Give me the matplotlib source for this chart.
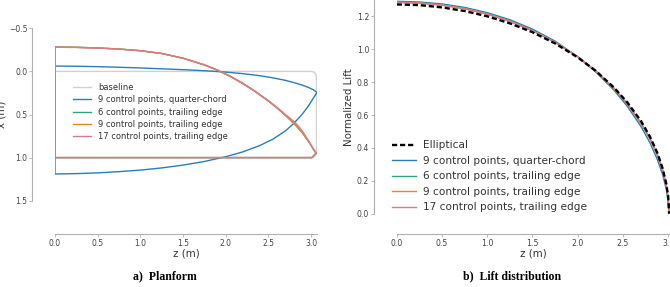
import matplotlib
matplotlib.use("Agg")
import matplotlib.pyplot as plt

plt.rcParams["font.family"] = ["DejaVu Sans"]

# -------------------------------
# Planform data (z span, x chordwise)
# -------------------------------

base_z = [0.0, 3.0, 3.04, 3.06, 3.065, 3.065, 3.06, 3.04, 3.0, 0.0, 0.0]
base_x = [0.0, 0.0, 0.01, 0.04, 0.10, 0.90, 0.96, 0.99, 1.0, 1.0, 0.0]

qc_z = [0.0, 0.25, 0.5, 0.75, 1.0, 1.25, 1.5, 1.75, 2.0, 2.2, 2.4, 2.55, 2.7, 2.8, 2.9, 2.97, 3.03, 3.07]
qc_le = [-0.062, -0.060, -0.055, -0.048, -0.040, -0.030, -0.020, -0.008, 0.008, 0.026, 0.050,
         0.074, 0.104, 0.130, 0.160, 0.186, 0.215, 0.245]
qc_te = [1.190, 1.186, 1.177, 1.163, 1.145, 1.120, 1.087, 1.045, 0.990, 0.934, 0.860,
         0.788, 0.690, 0.602, 0.492, 0.401, 0.305, 0.245]

te_z = [0.0, 0.25, 0.5, 0.75, 1.0, 1.25, 1.5, 1.75, 1.9, 2.05, 2.2, 2.35, 2.5, 2.6, 2.7, 2.8,
        2.85, 2.9, 2.97, 3.03, 3.06]
le_6 = [-0.282, -0.280, -0.272, -0.260, -0.240, -0.208, -0.153, -0.075, -0.015, 0.057, 0.141,
        0.237, 0.344, 0.423, 0.510, 0.606, 0.658, 0.715, 0.811, 0.908, 0.950]
le_9 = [-0.281, -0.279, -0.271, -0.259, -0.239, -0.207, -0.152, -0.075, -0.016, 0.055, 0.139,
        0.235, 0.342, 0.421, 0.508, 0.604, 0.656, 0.713, 0.809, 0.906, 0.950]
le_17 = [-0.280, -0.278, -0.271, -0.259, -0.240, -0.209, -0.154, -0.077, -0.018, 0.053, 0.137,
         0.233, 0.339, 0.416, 0.500, 0.582, 0.632, 0.696, 0.802, 0.903, 0.945]
te_tip_z = 3.01
te_x = 1.0

# -------------------------------
# Lift distribution data
# -------------------------------

lift_z = [0.0, 0.25, 0.5, 0.75, 1.0, 1.25, 1.5, 1.75, 2.0, 2.2, 2.4, 2.55, 2.7, 2.8, 2.88,
          2.94, 2.98, 3.0, 3.01]
lift_ell = [1.273, 1.269, 1.255, 1.233, 1.201, 1.158, 1.104, 1.036, 0.951, 0.869, 0.768,
            0.676, 0.563, 0.467, 0.370, 0.273, 0.179, 0.104, 0.0]
lift_qc = [1.292, 1.288, 1.276, 1.255, 1.223, 1.180, 1.123, 1.050, 0.955, 0.862, 0.752,
           0.652, 0.530, 0.430, 0.330, 0.235, 0.145, 0.070, 0.0]
lift_6 = [1.287, 1.283, 1.270, 1.249, 1.216, 1.172, 1.115, 1.044, 0.955, 0.868, 0.762,
          0.666, 0.550, 0.455, 0.358, 0.262, 0.168, 0.095, 0.0]
lift_9 = [1.286, 1.282, 1.269, 1.248, 1.215, 1.171, 1.114, 1.043, 0.954, 0.867, 0.761,
          0.665, 0.549, 0.454, 0.357, 0.261, 0.167, 0.094, 0.0]
lift_17 = [1.285, 1.281, 1.268, 1.247, 1.214, 1.170, 1.113, 1.043, 0.955, 0.869, 0.764,
           0.669, 0.553, 0.458, 0.361, 0.265, 0.170, 0.096, 0.0]

labels = ["9 control points, quarter-chord", "6 control points, trailing edge",
          "9 control points, trailing edge", "17 control points, trailing edge"]
colors = ["#2a7db8", "#2aa57c", "#e0892a", "#dc7890"]

TICK_C = "#444444"
SPINE_C = "#b0b0b0"


def style_axes(ax, left_off, bottom_off, tick_fs):
    for s in ["top", "right"]:
        ax.spines[s].set_visible(False)
    ax.spines["left"].set_position(("outward", left_off))
    ax.spines["bottom"].set_position(("outward", bottom_off))
    for s in ["left", "bottom"]:
        ax.spines[s].set_color(SPINE_C)
        ax.spines[s].set_linewidth(0.8)
    ax.tick_params(length=2.2, width=0.6, color=SPINE_C, labelcolor=TICK_C,
                   labelsize=tick_fs, pad=1.5)


fig = plt.figure(figsize=(6.7, 2.87), dpi=100)

# -------------------------------
# a) Planform
# -------------------------------

ax1 = fig.add_axes([55 / 670, 1 - 200.7 / 287, 262 / 670, 172.4 / 287])

ax1.plot(base_z, base_x, color="#d0d0d0", lw=1.0, label="baseline")

qc_outline_z = qc_z + qc_z[::-1] + [qc_z[0]]
qc_outline_x = qc_le + qc_te[::-1] + [qc_le[0]]
ax1.plot(qc_outline_z, qc_outline_x, color=colors[0], lw=1.0, label=labels[0])

for le, c, lab in zip([le_6, le_9, le_17], colors[1:], labels[1:]):
    oz = te_z + [te_tip_z, 0.0, 0.0]
    ox = le + [te_x, te_x, le[0]]
    ax1.plot(oz, ox, color=c, lw=1.0, label=lab)

ax1.set_xlim(0, 3.07)
ax1.set_ylim(1.5, -0.5)
ax1.set_xticks([0.0, 0.5, 1.0, 1.5, 2.0, 2.5, 3.0])
ax1.set_yticks([-0.5, 0.0, 0.5, 1.0, 1.5])
ax1.set_xticklabels(["0.0", "0.5", "1.0", "1.5", "2.0", "2.5", "3.0"])
ax1.set_yticklabels(["\u22120.5", "0.0", "0.5", "1.0", "1.5"])
style_axes(ax1, 16.3, 24.0, 5.5)
ax1.set_xlabel("z (m)", fontsize=7.4, color="#333333", labelpad=0.5)
ax1.set_ylabel("x (m)", fontsize=7.4, color="#333333")
ax1.yaxis.set_label_coords(-0.187, 0.5)

ax1.legend(loc="upper left", bbox_to_anchor=(73 / 670, 1 - 83 / 287),
           bbox_transform=fig.transFigure, frameon=False, fontsize=6.0,
           borderpad=0, borderaxespad=0, handlelength=2.2, handletextpad=0.8,
           labelspacing=0.4, labelcolor="#333333")

# -------------------------------
# b) Lift distribution
# -------------------------------

ax2 = fig.add_axes([396.7 / 670, 1 - 213.7 / 287, 273.3 / 670, 213.7 / 287])

ax2.plot(lift_z, lift_ell, color="black", lw=1.7, ls=(0, (2.2, 1.2)), label="Elliptical", zorder=5)
for y, c, lab in zip([lift_qc, lift_6, lift_9, lift_17], colors, labels):
    ax2.plot(lift_z, y, color=c, lw=1.0, label=lab)

ax2.set_xlim(0, 3.02)
ax2.set_ylim(0, 1.3)
ax2.set_xticks([0.0, 0.5, 1.0, 1.5, 2.0, 2.5, 3.0])
ax2.set_yticks([0.0, 0.2, 0.4, 0.6, 0.8, 1.0, 1.2])
ax2.set_xticklabels(["0.0", "0.5", "1.0", "1.5", "2.0", "2.5", "3.0"])
ax2.set_yticklabels(["0.0", "0.2", "0.4", "0.6", "0.8", "1.0", "1.2"])
style_axes(ax2, 16.1, 14.6, 5.6)
ax2.set_xlabel("z (m)", fontsize=7.4, color="#333333", labelpad=0.5)
ax2.set_ylabel("Normalized Lift", fontsize=7.4, color="#333333")
ax2.yaxis.set_label_coords(-0.156, 0.5)

ax2.legend(loc="upper left", bbox_to_anchor=(392.3 / 670, 1 - 140.5 / 287),
           bbox_transform=fig.transFigure, frameon=False, fontsize=7.6,
           borderpad=0, borderaxespad=0, handlelength=2.2, handletextpad=0.75,
           labelspacing=0.52, labelcolor="#333333")

# captions
fig.text(165 / 670, 1 - 276 / 287, "a)  Planform", ha="center", va="center",
         family="Liberation Serif", weight="bold", fontsize=8.5)
fig.text(512.5 / 670, 1 - 276 / 287, "b)  Lift distribution", ha="center", va="center",
         family="Liberation Serif", weight="bold", fontsize=8.5)

fig.savefig("out.png", dpi=100)
